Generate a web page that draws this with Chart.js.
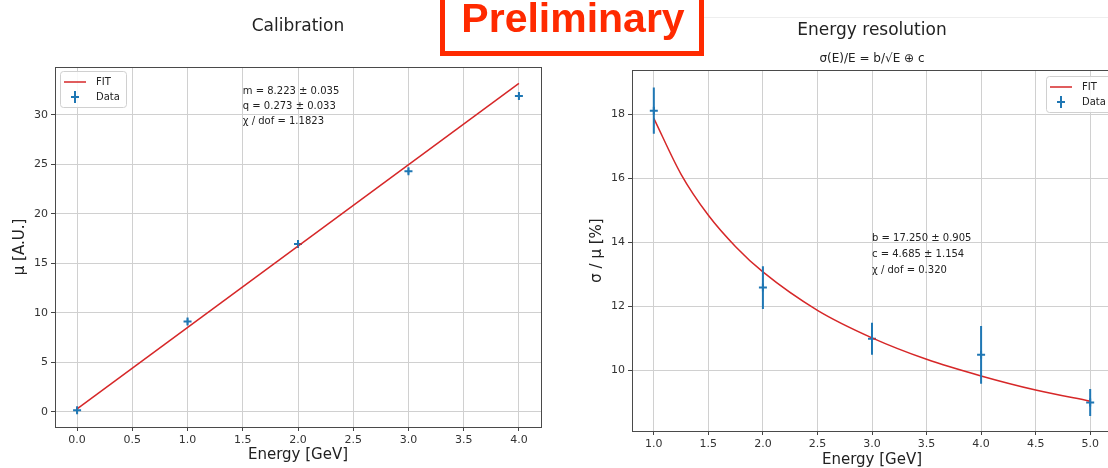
<!DOCTYPE html>
<html>
<head>
<meta charset="utf-8">
<script src="https://cdn.jsdelivr.net/npm/chart.js"></script>
<style>
  html, body { margin: 0; padding: 0; background: #fff; }
  #wrap { position: relative; width: 1108px; height: 468px; overflow: hidden; background: #fff; }
  #calib { position: absolute; left: 0; top: 0; }
  #reso { position: absolute; left: 560px; top: 0; }
  #rule { position: absolute; left: 704px; top: 17px; width: 404px; height: 1px; background: #eeeeee; }
  #prelimBox { position: absolute; left: 440px; top: -10px; width: 254px; height: 56px; border: 5px solid #ff2a00; background: #fff; }
  #prelimText { position: absolute; left: 440px; top: -2px; width: 266px; text-align: center;
    font: bold 41px/41px "Liberation Sans", Arial, sans-serif; color: #ff2a00; }
</style>
</head>
<body>
<div id="wrap">
  <canvas id="calib" width="560" height="468"></canvas>
  <canvas id="reso" width="580" height="468"></canvas>
  <div id="rule"></div>
  <div id="prelimBox"></div>
  <div id="prelimText">Preliminary</div>
</div>
<script>
// Calibration (left)
const calEnergy = [0, 1, 2, 3, 4];
const calMu = [0.15, 9.1, 16.95, 24.3, 31.9];
const calErr = [0.3, 0.3, 0.3, 0.3, 0.3];
const calFitEnergy = [0, 4];
const calFitMu = [0.273, 33.165];
const calTicksX = [0, 0.5, 1, 1.5, 2, 2.5, 3, 3.5, 4];
const calTicksY = [0, 5, 10, 15, 20, 25, 30];
const calNotes = ['m = 8.223 ± 0.035', 'q = 0.273 ± 0.033', 'χ / dof = 1.1823'];

// Energy resolution (right)
const resEnergy = [1, 2, 3, 4, 5];
const resSigma = [18.11, 12.58, 10.98, 10.48, 8.99];
const resErr = [0.72, 0.67, 0.5, 0.9, 0.42];
const resFitEnergy = [1, 1.25, 1.5, 1.75, 2, 2.5, 3, 3.5, 4, 4.5, 5];
const resFitSigma = [17.87, 16.12, 14.84, 13.86, 13.07, 11.87, 11.01, 10.34, 9.82, 9.38, 9.03];
const resTicksX = [1, 1.5, 2, 2.5, 3, 3.5, 4, 4.5, 5];
const resTicksY = [10, 12, 14, 16, 18];
const resNotes = ['b = 17.250 ± 0.905', 'c = 4.685 ± 1.154', 'χ / dof = 0.320'];

const RED = '#d62728';
const BLUE = '#1f77b4';

Chart.defaults.font.family = '"DejaVu Sans", sans-serif';
Chart.defaults.color = '#222';

function pts(xs, ys) {
    return xs.map((v, i) => ({ x: v, y: ys[i] }));
}

// error bars, frame, fit text and legend box (matplotlib look)
const extras = {
    id: 'extras',
    afterDatasetsDraw(chart) {
        const { ctx, chartArea: a, scales: { x, y } } = chart;
        ctx.save();
        ctx.beginPath();
        ctx.rect(a.left, a.top, a.width, a.height);
        ctx.clip();
        chart.data.datasets.forEach(ds => {
            if (!ds.errors) return;
            ctx.strokeStyle = ds.borderColor;
            ctx.lineWidth = ds.errorWidth;
            ctx.beginPath();
            ds.data.forEach((p, i) => {
                const px = x.getPixelForValue(p.x);
                ctx.moveTo(px, y.getPixelForValue(p.y - ds.errors[i]));
                ctx.lineTo(px, y.getPixelForValue(p.y + ds.errors[i]));
            });
            ctx.stroke();
        });
        ctx.restore();
    },
    afterDraw(chart, args, opts) {
        const { ctx, chartArea: a, scales: { x, y } } = chart;
        ctx.save();
        ctx.strokeStyle = '#4a4a4a';
        ctx.lineWidth = 1;
        ctx.strokeRect(Math.round(a.left) + 0.5, Math.round(a.top) + 0.5,
            Math.round(a.width), Math.round(a.height));

        // fit results
        ctx.fillStyle = '#222';
        ctx.font = '10px "DejaVu Sans"';
        ctx.textAlign = 'left';
        ctx.textBaseline = 'middle';
        const nx = x.getPixelForValue(opts.noteX);
        const ny = y.getPixelForValue(opts.noteY);
        opts.notes.forEach((t, i) => ctx.fillText(t, nx, ny + i * opts.noteGap));

        // legend
        const bx = opts.legendSide === 'left' ? a.left + 5 : a.right - 66;
        const by = a.top + opts.legendTop;
        ctx.fillStyle = 'rgba(255,255,255,0.85)';
        ctx.strokeStyle = '#d0d0d0';
        ctx.beginPath();
        ctx.roundRect(bx + 0.5, by + 0.5, 66, 36, 3);
        ctx.fill();
        ctx.stroke();
        ctx.strokeStyle = RED;
        ctx.lineWidth = 1.5;
        ctx.beginPath();
        ctx.moveTo(bx + 4, by + 11);
        ctx.lineTo(bx + 26, by + 11);
        ctx.stroke();
        ctx.strokeStyle = BLUE;
        ctx.lineWidth = 2;
        ctx.beginPath();
        ctx.moveTo(bx + 11, by + 26);
        ctx.lineTo(bx + 19, by + 26);
        ctx.moveTo(bx + 15, by + 20);
        ctx.lineTo(bx + 15, by + 32);
        ctx.stroke();
        ctx.fillStyle = '#222';
        ctx.fillText('FIT', bx + 36, by + 11);
        ctx.fillText('Data', bx + 36, by + 26);
        ctx.restore();
    }
};

function axis(ticks, fmt, fitSize, titleText, titlePad, extra) {
    return Object.assign({
        type: 'linear',
        afterBuildTicks: s => { s.ticks = ticks.map(v => ({ value: v })); },
        afterFit: s => {
            if (s.isHorizontal()) s.height = fitSize; else s.width = fitSize;
        },
        ticks: { callback: fmt, font: { size: 11 }, color: '#333', padding: 3, maxRotation: 0, autoSkip: false },
        grid: { color: '#d0d0d0', tickColor: '#444', tickLength: 4, lineWidth: 1 },
        border: { display: false },
        title: { display: true, text: titleText, font: { size: 15 }, color: '#222', padding: titlePad }
    }, extra);
}

new Chart(document.getElementById('calib'), {
    type: 'scatter',
    data: {
        datasets: [{
            type: 'line',
            label: 'FIT',
            data: pts(calFitEnergy, calFitMu),
            borderColor: RED,
            borderWidth: 1.5,
            pointRadius: 0,
            fill: false
        }, {
            label: 'Data',
            data: pts(calEnergy, calMu),
            errors: calErr,
            errorWidth: 1.5,
            pointStyle: 'cross',
            pointRadius: 4,
            borderWidth: 2,
            borderColor: BLUE,
            backgroundColor: BLUE
        }]
    },
    options: {
        responsive: false,
        animation: false,
        layout: { padding: { left: 0, right: 19, top: 0, bottom: 0 } },
        plugins: {
            legend: { display: false },
            tooltip: { enabled: false },
            title: {
                display: true, text: 'Calibration', fullSize: false,
                font: { size: 17, weight: 'normal' }, color: '#222',
                padding: { top: 16.8, bottom: 29.8 }
            },
            extras: { notes: calNotes, noteX: 1.5, noteY: 32.4, noteGap: 15, legendSide: 'left', legendTop: 4 }
        },
        scales: {
            x: axis(calTicksX, v => v.toFixed(1), 41, 'Energy [GeV]', { top: 0, bottom: 4 }, { min: -0.2, max: 4.2 }),
            y: axis(calTicksY, v => String(v), 55, 'μ [A.U.]', { top: 11, bottom: 0 }, { min: -1.55, max: 34.82 })
        }
    },
    plugins: [extras]
});

new Chart(document.getElementById('reso'), {
    type: 'scatter',
    data: {
        datasets: [{
            type: 'line',
            label: 'FIT',
            data: pts(resFitEnergy, resFitSigma),
            borderColor: RED,
            borderWidth: 1.5,
            pointRadius: 0,
            cubicInterpolationMode: 'monotone',
            fill: false
        }, {
            label: 'Data',
            data: pts(resEnergy, resSigma),
            errors: resErr,
            errorWidth: 2,
            pointStyle: 'cross',
            pointRadius: 4,
            borderWidth: 2,
            borderColor: BLUE,
            backgroundColor: BLUE
        }]
    },
    options: {
        responsive: false,
        animation: false,
        layout: { padding: { left: 0, right: 28, top: 0, bottom: 0 } },
        plugins: {
            legend: { display: false },
            tooltip: { enabled: false },
            title: {
                display: true, text: 'Energy resolution', fullSize: false,
                font: { size: 17, weight: 'normal' }, color: '#222',
                padding: { top: 20.8, bottom: 0 }
            },
            subtitle: {
                display: true, text: 'σ(E)/E = b/√E ⊕ c', fullSize: false,
                font: { size: 12 }, color: '#222',
                padding: { top: 10.6, bottom: 3.8 }
            },
            extras: { notes: resNotes, noteX: 3.0, noteY: 14.13, noteGap: 16, legendSide: 'right', legendTop: 6 }
        },
        scales: {
            x: axis(resTicksX, v => v.toFixed(1), 37, 'Energy [GeV]', { top: 0, bottom: -1 }, { min: 0.8, max: 5.2 }),
            y: axis(resTicksY, v => String(v), 72, 'σ / μ [%]', { top: 28, bottom: 0 }, { min: 8.1, max: 19.38 })
        }
    },
    plugins: [extras]
});
</script>
</body>
</html>
